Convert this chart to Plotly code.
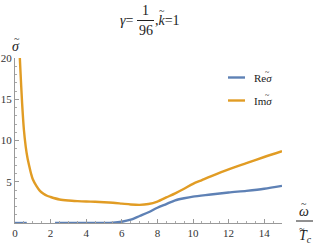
import plotly.graph_objects as go

# Data
im_x = [0.25, 0.3, 0.4, 0.5, 0.6, 0.7, 0.8, 0.9, 1.0, 1.2, 1.4, 1.6, 1.8, 2.0, 2.5, 3.0, 3.5, 4.0, 4.5,
        5.0, 5.5, 6.0, 6.5, 7.0, 7.5, 8.0, 8.5, 9.0, 9.5, 10.0, 10.5, 11.0, 12.0, 13.0, 14.0, 15.0]
im_y = [21.0, 18.7, 14.5, 11.3, 9.3, 7.9, 6.9, 6.0, 5.3, 4.5, 3.9, 3.55, 3.3, 3.15, 2.85, 2.72, 2.65, 2.6, 2.57,
        2.52, 2.45, 2.35, 2.25, 2.2, 2.3, 2.6, 3.1, 3.6, 4.15, 4.75, 5.2, 5.65, 6.5, 7.25, 8.0, 8.7]

re_x = [0.0, 0.3, 0.66, None, 2.25, 3.0, 4.0, 5.0, 5.5, 6.0, 6.5, 7.0, 7.5, 8.0, 8.5, 9.0, 9.5, 10.0,
        11.0, 12.0, 13.0, 14.0, 15.0]
re_y = [0.0, 0.0, 0.0, None, 0.0, 0.0, 0.0, 0.0, 0.03, 0.15, 0.4, 0.85, 1.3, 1.85, 2.3, 2.75, 3.0, 3.2,
        3.45, 3.7, 3.9, 4.15, 4.5]

x_ticks = [0, 2, 4, 6, 8, 10, 12, 14]
y_ticks = [5, 10, 15, 20]

BLUE = "#5E81B5"
ORANGE = "#E19C24"
FONT = "Liberation Serif"

W, H = 314, 245
L, R, T, B = 15, 32, 58, 22

def px(xp):
    return (xp - L) / (W - L - R)

def py(yp):
    return (H - B - yp) / (H - T - B)

fig = go.Figure()
fig.add_trace(go.Scatter(x=re_x, y=re_y, mode="lines", name="Reσ̃",
                         line=dict(color=BLUE, width=2.4, shape="spline", smoothing=0.8),
                         connectgaps=False, showlegend=False))
fig.add_trace(go.Scatter(x=im_x, y=im_y, mode="lines", name="Imσ̃",
                         line=dict(color=ORANGE, width=2.4, shape="spline", smoothing=0.8),
                         showlegend=False))

axis_common = dict(showgrid=False, zeroline=False, showline=True, linecolor="#999999", linewidth=1,
                   ticks="inside", tickcolor="#999999", ticklen=4, automargin=False,
                   tickfont=dict(family=FONT, size=11, color="#333333"))

fig.update_xaxes(range=[0, 15], tickvals=x_ticks, ticktext=[str(v) for v in x_ticks],
                 minor=dict(dtick=0.5, tick0=0, ticks="inside", ticklen=2, tickcolor="#aaaaaa"),
                 **axis_common)
fig.update_yaxes(range=[0, 20], tickvals=y_ticks, ticktext=[str(v) for v in y_ticks],
                 minor=dict(dtick=1, tick0=0, ticks="inside", ticklen=2, tickcolor="#aaaaaa"),
                 **axis_common)

annotations = []
shapes = []

def txt(s, x, y, size, xanchor="center", yanchor="middle"):
    annotations.append(dict(text=s, x=px(x), y=py(y), xref="paper", yref="paper",
                            showarrow=False, xanchor=xanchor, yanchor=yanchor,
                            font=dict(family=FONT, size=size, color="#222222")))

def tilde(x, y, size=9):
    txt("~", x, y, size)

def hline(x0, x1, y, color, width):
    shapes.append(dict(type="line", xref="paper", yref="paper", x0=px(x0), x1=px(x1),
                       y0=py(y), y1=py(y), line=dict(color=color, width=width)))

# Title: γ = 1/96 , k̃ = 1
txt("<i>γ</i>=", 136, 20, 14, xanchor="right")
txt("1", 145.5, 11, 14)
hline(137, 154, 20.5, "#222222", 1)
txt("96", 145.5, 30, 14)
txt(",<i>k</i>=1", 153, 20, 14, xanchor="left")
tilde(161.5, 11, 10)

# y label σ̃
txt("<i>σ</i>", 16, 46, 14)
tilde(17, 39, 10)

# x label: ω̃ / T̃c
txt("<i>ω</i>", 304, 211, 14)
tilde(304, 203, 10)
hline(296, 313, 221, "#222222", 1)
txt("<i>T</i><sub><i>c</i></sub>", 297, 236, 14, xanchor="left")
tilde(302, 228, 10)

# Legend
hline(228, 245, 77.5, BLUE, 2.4)
txt("Re<i>σ</i>", 252, 78, 11, xanchor="left")
tilde(267.5, 72, 8)
hline(228, 245, 100.5, ORANGE, 2.4)
txt("Im<i>σ</i>", 252, 101, 11, xanchor="left")
tilde(267, 95, 8)

fig.update_layout(width=W, height=H, margin=dict(l=L, r=R, t=T, b=B),
                  plot_bgcolor="white", paper_bgcolor="white",
                  annotations=annotations, shapes=shapes, showlegend=False)

fig.write_html("out.html", config={"displayModeBar": False},
               post_script="document.body.style.margin='0';document.body.style.overflow='hidden';")
